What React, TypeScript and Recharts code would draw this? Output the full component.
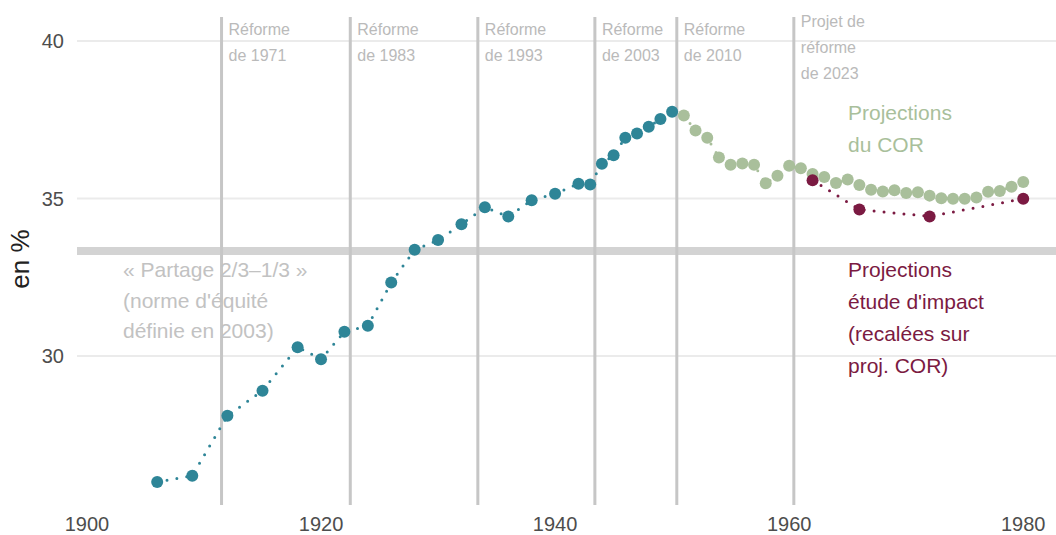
import React from "react";
import { ComposedChart, Line, XAxis, YAxis, CartesianGrid, ReferenceLine } from "recharts";

// taux de cotisation, générations
const histYears = [1906, 1909, 1912, 1915, 1918, 1920, 1922, 1924, 1926, 1928, 1930, 1932, 1934, 1936, 1938, 1940, 1942, 1943, 1944, 1945, 1946, 1947, 1948, 1949, 1950];
const histValues = [26.0, 26.2, 28.1, 28.9, 30.28, 29.9, 30.77, 30.96, 32.33, 33.37, 33.68, 34.18, 34.72, 34.43, 34.94, 35.15, 35.47, 35.44, 36.1, 36.37, 36.93, 37.06, 37.28, 37.52, 37.75];

const corYears = [1951, 1952, 1953, 1954, 1955, 1956, 1957, 1958, 1959, 1960, 1961, 1962, 1963, 1964, 1965, 1966, 1967, 1968, 1969, 1970, 1971, 1972, 1973, 1974, 1975, 1976, 1977, 1978, 1979, 1980];
const corValues = [37.63, 37.16, 36.93, 36.3, 36.07, 36.11, 36.07, 35.48, 35.72, 36.04, 35.96, 35.78, 35.68, 35.49, 35.6, 35.43, 35.28, 35.22, 35.26, 35.17, 35.2, 35.09, 35.01, 34.99, 34.99, 35.03, 35.21, 35.24, 35.37, 35.52];

const impactYears = [1962, 1966, 1972, 1980];
const impactValues = [35.58, 34.65, 34.43, 34.99];

const reformYears = [1911.5, 1922.5, 1933.4, 1943.4, 1950.4, 1960.4];
const reformLabels = [
  ["Réforme", "de 1971"],
  ["Réforme", "de 1983"],
  ["Réforme", "de 1993"],
  ["Réforme", "de 2003"],
  ["Réforme", "de 2010"],
  ["Projet de", "réforme", "de 2023"],
];

const xTicks = [1900, 1920, 1940, 1960, 1980];
const yTicks = [30, 35, 40];
const partage = 100 / 3;

const hist = histYears.map((year, i) => ({ year, value: histValues[i] }));
const cor = corYears.map((year, i) => ({ year, value: corValues[i] }));
const impact = impactYears.map((year, i) => ({ year, value: impactValues[i] }));

const FONT = "'Liberation Sans', Arial, Helvetica, sans-serif";
const TEAL = "#2e8597";
const GREEN = "#a9bf9b";
const MAROON = "#7b1a42";

const reformLabel = (lines: string[]) => (props: any) => {
  const vb = props.viewBox || {};
  const x = vb.x + 7;
  const start = lines.length === 3 ? 27 : 35;
  return (
    <text x={x} y={0} fontFamily={FONT} fontSize={16} fill="#bababa">
      {lines.map((l, i) => (
        <tspan key={i} x={x} y={start + i * 26}>
          {l}
        </tspan>
      ))}
    </text>
  );
};

const Note = ({ x, y, lines, color, step }: { x: number; y: number; lines: string[]; color: string; step: number }) => (
  <text x={x} y={y} fontFamily={FONT} fontSize={21} fill={color}>
    {lines.map((l, i) => (
      <tspan key={i} x={x} y={y + i * step}>
        {l}
      </tspan>
    ))}
  </text>
);

const App = () => {
  return (
    <div style={{ position: "absolute", left: 0, top: 0, width: 1056, height: 535, background: "#fff" }}>
      <ComposedChart width={1056} height={535} margin={{ top: 17, right: 0, bottom: 0, left: 0 }}>
        <CartesianGrid vertical={false} horizontalValues={yTicks} stroke="#ebebeb" strokeWidth={2} />
        <XAxis
          type="number"
          dataKey="year"
          domain={[1899.15, 1982.8]}
          ticks={xTicks}
          allowDataOverflow
          axisLine={false}
          tickLine={false}
          tickSize={0}
          tickMargin={12}
          height={30}
          tick={{ fontFamily: FONT, fontSize: 20, fill: "#4d4d4d" }}
        />
        <YAxis
          type="number"
          dataKey="value"
          domain={[25.27, 40.76]}
          ticks={yTicks}
          allowDataOverflow
          axisLine={false}
          tickLine={false}
          tickSize={0}
          tickMargin={13}
          width={77}
          tick={{ fontFamily: FONT, fontSize: 20, fill: "#4d4d4d" }}
        />
        <ReferenceLine y={partage} stroke="#d3d3d3" strokeWidth={8} />
        {reformYears.map((yr, i) => (
          <ReferenceLine key={yr} x={yr} stroke="#c6c6c6" strokeWidth={3} label={reformLabel(reformLabels[i])} />
        ))}
        <Line
          data={hist}
          dataKey="value"
          stroke={TEAL}
          strokeWidth={3}
          strokeDasharray="0 10"
          strokeLinecap="round"
          dot={{ r: 6, fill: TEAL, stroke: "none" }}
          isAnimationActive={false}
        />
        <Line
          data={cor}
          dataKey="value"
          stroke={GREEN}
          strokeWidth={3}
          strokeDasharray="0 10"
          strokeLinecap="round"
          dot={{ r: 6, fill: GREEN, stroke: "none" }}
          isAnimationActive={false}
        />
        <Line
          data={impact}
          dataKey="value"
          stroke={MAROON}
          strokeWidth={3}
          strokeDasharray="0 10"
          strokeLinecap="round"
          dot={{ r: 6, fill: MAROON, stroke: "none" }}
          isAnimationActive={false}
        />
      </ComposedChart>
      <svg width={1056} height={535} style={{ position: "absolute", left: 0, top: 0, pointerEvents: "none" }}>
        <text
          x={20}
          y={259}
          transform="rotate(-90 20 259)"
          textAnchor="middle"
          dominantBaseline="central"
          fontFamily={FONT}
          fontSize={26}
          fill="#222"
        >
          en %
        </text>
        <Note x={123} y={277} step={30.5} color="#c2c2c2" lines={["« Partage 2/3–1/3 »", "(norme d'équité", "définie en 2003)"]} />
        <Note x={848} y={120} step={32} color={GREEN} lines={["Projections", "du COR"]} />
        <Note
          x={848}
          y={277}
          step={32}
          color={MAROON}
          lines={["Projections", "étude d'impact", "(recalées sur", "proj. COR)"]}
        />
      </svg>
    </div>
  );
};

export default App;
